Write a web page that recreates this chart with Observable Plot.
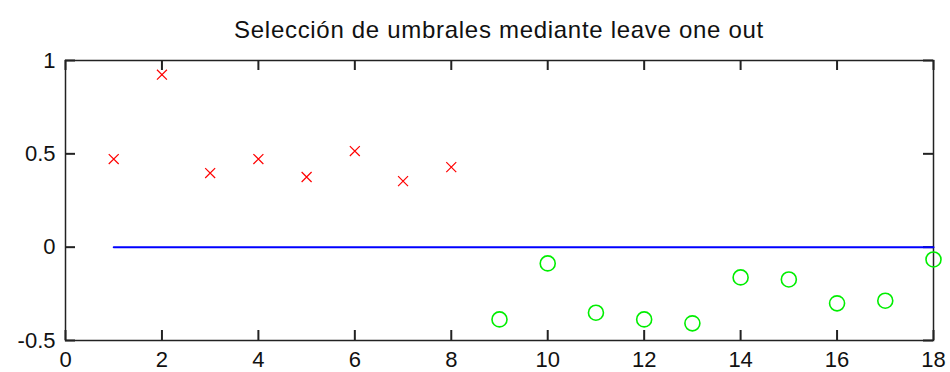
<!DOCTYPE html>
<html>
<head>
<meta charset="utf-8">
<script src="https://cdn.jsdelivr.net/npm/d3@7"></script>
<script src="https://cdn.jsdelivr.net/npm/@observablehq/plot@0.6"></script>
<style>
  body { margin: 0; background: #fff; }
  #wrap { position: relative; width: 950px; height: 372px; }
  #title { position: absolute; left: 0; top: 18px; width: 950px; box-sizing: border-box; padding-left: 64px; padding-right: 16px;
    font: 24px "Liberation Sans", Arial, sans-serif; line-height: 24px; letter-spacing: 0.7px; text-align: center; color: #111; }
  svg { display: block; }
</style>
</head>
<body>
<div id="wrap">
<div id="chart"></div>
<div id="title">Selección de umbrales mediante leave one out</div>
</div>
<script>
const redX = [1, 2, 3, 4, 5, 6, 7, 8];
const redY = [0.472, 0.924, 0.397, 0.472, 0.376, 0.515, 0.354, 0.429];
const greenX = [9, 10, 11, 12, 13, 14, 15, 16, 17, 18];
const greenY = [-0.387, -0.087, -0.351, -0.387, -0.408, -0.162, -0.173, -0.301, -0.287, -0.066];
const lineXs = [1, 18];
const lineYs = [0, 0];
const xTicks = [0, 2, 4, 6, 8, 10, 12, 14, 16, 18];
const yTicks = [-0.5, 0, 0.5, 1];

const red = redX.map((x, i) => ({x, y: redY[i]}));
const green = greenX.map((x, i) => ({x, y: greenY[i]}));
const line = lineXs.map((x, i) => ({x, y: lineYs[i]}));
const xTickRows = xTicks.map(v => ({v}));
const yTickRows = yTicks.map(v => ({v}));

const axisColor = "#222";
const W = 950, H = 372, mL = 65, mR = 17, mT = 60, mB = 32;
const tick = 10;
const plot = Plot.plot({
  width: W,
  height: H,
  marginLeft: mL,
  marginRight: mR,
  marginTop: mT,
  marginBottom: mB,
  style: {fontFamily: '"Liberation Sans", Arial, sans-serif', fontSize: "22px", color: "#111", background: "#fff"},
  x: {domain: [0, 18]},
  y: {domain: [-0.5, 1]},
  marks: [
    Plot.axisX(xTicks, {anchor: "bottom", tickSize: 0, tickPadding: 11, label: null, fill: "#111", tickFormat: d => String(d)}),
    Plot.axisY(yTicks, {anchor: "left", tickSize: 0, tickPadding: 10, label: null, fill: "#111", tickFormat: d => String(d)}),
    Plot.frame({stroke: axisColor, strokeWidth: 1.5}),
    Plot.tickX(xTickRows, {x: "v", stroke: axisColor, strokeWidth: 2, insetTop: H - mT - mB - tick}),
    Plot.tickX(xTickRows, {x: "v", stroke: axisColor, strokeWidth: 2, insetBottom: H - mT - mB - tick}),
    Plot.tickY(yTickRows, {y: "v", stroke: axisColor, strokeWidth: 2, insetRight: W - mL - mR - tick}),
    Plot.tickY(yTickRows, {y: "v", stroke: axisColor, strokeWidth: 2, insetLeft: W - mL - mR - tick}),
    Plot.line(line, {x: "x", y: "y", stroke: "#0000ff", strokeWidth: 2}),
    Plot.dot(red, {x: "x", y: "y", symbol: "times", r: 4.6, stroke: "#ff0000", strokeWidth: 1.2}),
    Plot.dot(green, {x: "x", y: "y", symbol: "circle", r: 7.5, stroke: "#00ee00", strokeWidth: 1.6, fill: "none"})
  ]
});
document.getElementById("chart").appendChild(plot);
</script>
</body>
</html>
